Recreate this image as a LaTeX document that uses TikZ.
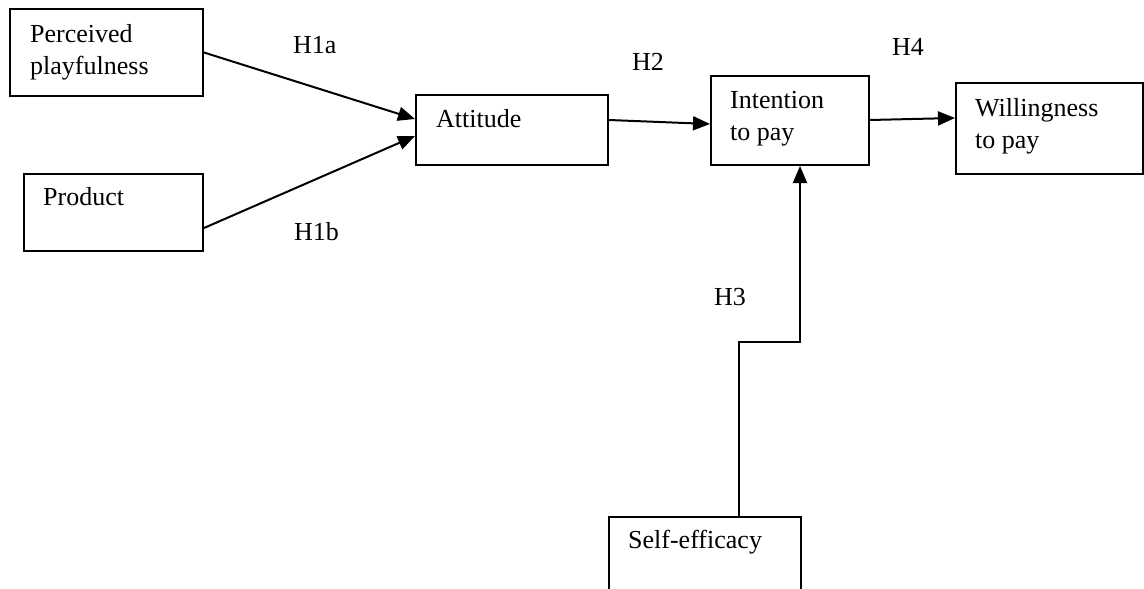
\documentclass[tikz,border=0pt]{standalone}
\usepackage{fontspec}
\setmainfont{Liberation Serif}
\usetikzlibrary{arrows.meta}
\begin{document}
\begin{tikzpicture}[x=1pt,y=-1pt,
  box/.style={draw,line width=2pt,rectangle,inner sep=0pt,anchor=north west},
  txt/.style={anchor=base west,inner sep=0pt,align=left,font=\fontsize{26}{32}\selectfont},
  hyp/.style={anchor=base west,inner sep=0pt,font=\fontsize{26}{32}\selectfont},
  arr/.style={line width=2pt,-{Triangle[length=17pt,width=14pt]}}]
\useasboundingbox (0,0) rectangle (1144,589);
\clip (0,0) rectangle (1144,589);
% boxes
\node[box,minimum width=193pt,minimum height=87pt] (pp) at (9,8) {};
\node[box,minimum width=179pt,minimum height=77pt] (pr) at (23,173) {};
\node[box,minimum width=192pt,minimum height=70pt] (att) at (415,94) {};
\node[box,minimum width=158pt,minimum height=89pt] (int) at (710,75) {};
\node[box,minimum width=187pt,minimum height=91pt] (wil) at (955,82) {};
\node[box,minimum width=192pt,minimum height=100pt] (se) at (608,516) {};
% texts (base = last line's baseline)
\node[txt] (tpp) at ([shift={(21,66)}]pp.north west) {Perceived\\playfulness};
\node[txt] (tpr) at ([shift={(20,32)}]pr.north west) {Product};
\node[txt] (tatt) at ([shift={(21,33)}]att.north west) {Attitude};
\node[txt] (tint) at ([shift={(20,65)}]int.north west) {Intention\\to pay};
\node[txt] (twil) at ([shift={(20,66)}]wil.north west) {Willingness\\to pay};
\node[txt] (tse) at ([shift={(20,32)}]se.north west) {Self-efficacy};
% hypothesis labels
\node[hyp] (h1a) at (293,53) {H1a};
\node[hyp] (h1b) at (294,240) {H1b};
\node[hyp] (h2) at (632,70) {H2};
\node[hyp] (h3) at (714,305) {H3};
\node[hyp] (h4) at (892,55) {H4};
% connectors
\draw[arr] ([yshift=0pt]pp.east) -- ([yshift=11pt]att.west);
\draw[arr] ([yshift=-15.5pt]pr.east) -- ([yshift=-6pt]att.west);
\draw[arr] ([yshift=10pt]att.east) -- ([yshift=-3.5pt]int.west);
\draw[arr] ([yshift=0.5pt]int.east) -- ([yshift=10.5pt]wil.west);
\coordinate (h3a) at (739,342);
\coordinate (h3b) at (800,342);
\draw[arr] (se.north -| h3a) -- (h3a) -- (h3b) -- (h3b |- int.south);
\end{tikzpicture}
\end{document}
